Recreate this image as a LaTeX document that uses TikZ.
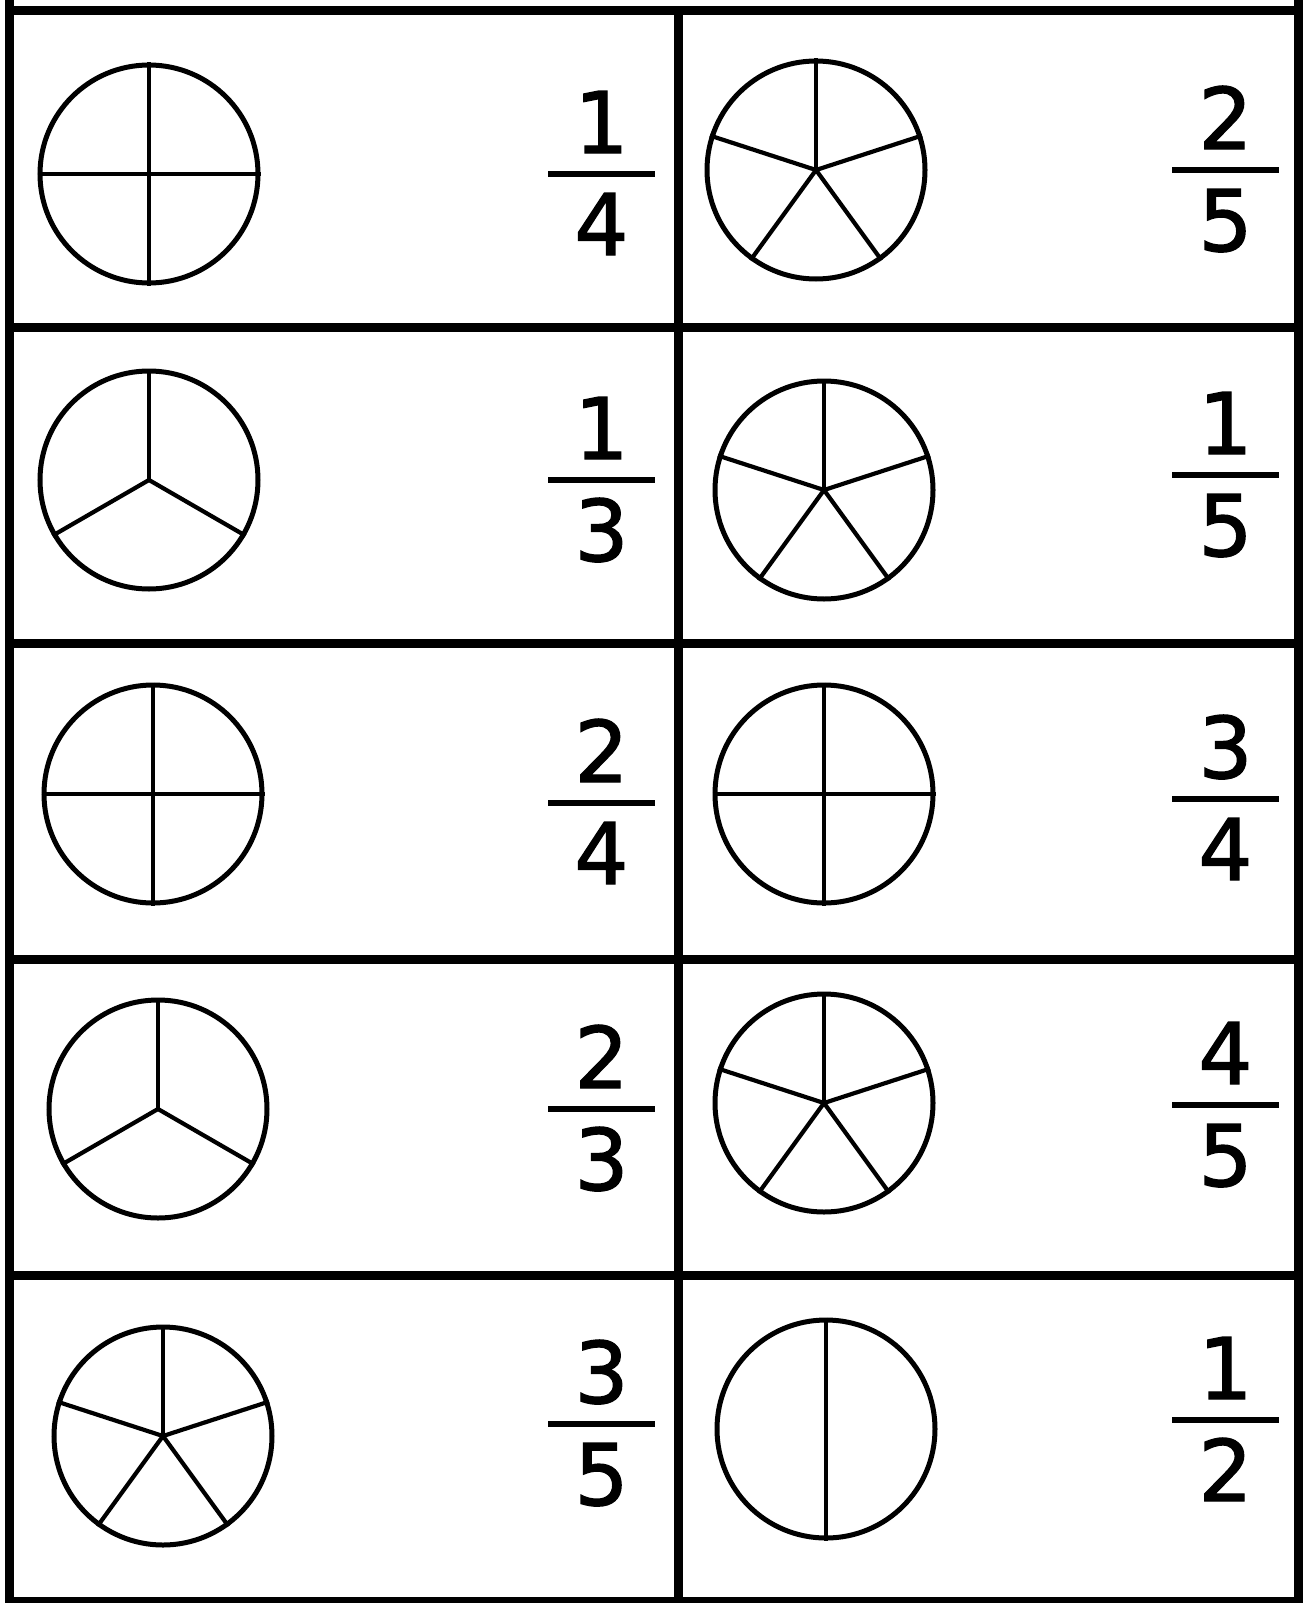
\documentclass[tikz,border=0pt]{standalone}
\usepackage{fontspec}
\setmainfont{DejaVu Sans}
\newfontfamily\digitfont{DejaVu Sans}[FakeBold=1.6]
\begin{document}
\begin{tikzpicture}[x=1pt,y=-1pt,
  grid/.style={line width=9pt, black},
  pie/.style={circle, draw, line width=5pt, inner sep=0pt, minimum size=218pt},
  spoke/.style={line width=4.2pt},
  digit/.style={anchor=base, inner sep=0pt, font=\digitfont\fontsize{85}{85}\selectfont},
  fbar/.style={line width=5.5pt}]
\useasboundingbox (0,0) rectangle (1305,1603);
% grid
\draw[grid] (9.5,0) -- (9.5,1603);
\draw[grid] (1298,0) -- (1298,1603);
\draw[grid] (678,10.5) -- (678,1603);
\foreach \yy in {10.5,327,643,959,1275,1601}
  \draw[grid] (5,\yy) -- (1302.5,\yy);
% circles
\node[pie] (a) at (149,174) {};
\node[pie] (b) at (816,170) {};
\node[pie] (c) at (149,480) {};
\node[pie] (d) at (824,490) {};
\node[pie] (e) at (153,794) {};
\node[pie] (f) at (824,794) {};
\node[pie] (g) at (158,1109) {};
\node[pie] (h) at (824,1103) {};
\node[pie] (i) at (163,1436) {};
\node[pie] (j) at (826,1429) {};
% quarters
\foreach \c in {a,e,f} {
  \draw[spoke] (\c.180) -- (\c.0);
  \draw[spoke] (\c.90) -- (\c.270);
}
% thirds
\foreach \c in {c,g}
  \foreach \t in {90,210,330}
    \draw[spoke] (\c.center) -- (\c.\t);
% fifths
\foreach \c in {b,d,h,i}
  \foreach \t in {90,18,306,234,162}
    \draw[spoke] (\c.center) -- (\c.\t);
% halves
\draw[spoke] (j.90) -- (j.270);
% fractions
\foreach \k/\x/\y/\n/\d in {
  1/601.5/174/1/4, 2/1225.5/170/2/5,
  3/601.5/480/1/3, 4/1225.5/475/1/5,
  5/601.5/803/2/4, 6/1225.5/799/3/4,
  7/601.5/1109/2/3, 8/1225.5/1105/4/5,
  9/601.5/1424/3/5, 10/1225.5/1420/1/2} {
  \node[digit] (n\k) at (\x,\y-21) {\n};
  \node[digit] (d\k) at (\x,\y+81) {\d};
  \draw[fbar] (\x-53.5,\y) -- (\x+53.5,\y);
}
\end{tikzpicture}
\end{document}
